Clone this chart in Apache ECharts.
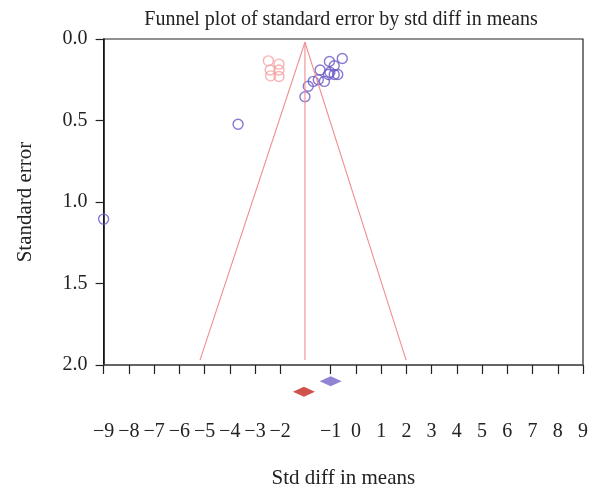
<!DOCTYPE html>
<html>
<head>
<meta charset="utf-8">
<script src="https://cdn.jsdelivr.net/npm/echarts@6/dist/echarts.min.js"></script>
<style>html,body{margin:0;padding:0;background:#fff}#c{width:596px;height:494px}</style>
</head>
<body>
<div id="c"></div>
<script>
// Axis coordinates: "−9".."−2" sit at −9..−2, an unlabeled slot at −1, then "−1".."9" at 0..10 (as drawn in the reference)
const xTickLabels = ['−9','−8','−7','−6','−5','−4','−3','−2','','−1','0','1','2','3','4','5','6','7','8','9'];
const yTicks = [0, 0.5, 1.0, 1.5, 2.0];

// Observed studies (std diff in means, standard error)
const observedX = [0.46, -0.05, 0.14, -0.42, -0.03, 0.28, -0.09, 0.14, -0.49, -0.25, -0.69, -0.89, -1.02, -3.67, -9.0];
const observedSE = [0.120, 0.138, 0.164, 0.190, 0.204, 0.218, 0.218, 0.218, 0.250, 0.260, 0.260, 0.290, 0.354, 0.523, 1.105];

// Imputed studies
const imputedX = [-2.47, -2.05, -2.40, -2.05, -2.38, -2.05];
const imputedSE = [0.134, 0.154, 0.190, 0.190, 0.226, 0.230];

// Funnel (centre and 95% limits)
const funnelCenter = -1.02;
const funnelTopSE = 0.02;
const funnelBottomSE = 1.97;
const funnelLeftBottom = -5.18;
const funnelRightBottom = 2.99;

// Summary diamonds (x, plotted below axis)
const observedSummary = [0.0, 2.10];
const adjustedSummary = [-1.06, 2.164];

const pink = '#f4a0a0';
const blue = '#6a58c6';

const chart = echarts.init(document.getElementById('c'));
const serif = 'Liberation Serif';

chart.setOption({
  animation: false,
  backgroundColor: '#fff',
  title: {
    text: 'Funnel plot of standard error by std diff in means',
    left: 336, top: 5, textAlign: 'center',
    textStyle: {fontFamily: serif, fontSize: 20, fontWeight: 'normal', color: '#222'}
  },
  grid: {left: 103.6, right: 13, top: 39, bottom: 122, show: true, borderColor: '#222', borderWidth: 1.2, backgroundColor: 'transparent'},
  xAxis: [
    {type: 'value', min: -9, max: 10, interval: 1, show: false},
    {
      type: 'category', data: xTickLabels, boundaryGap: false, position: 'bottom',
      name: 'Std diff in means', nameLocation: 'middle', nameGap: 103,
      nameTextStyle: {fontFamily: serif, fontSize: 21, color: '#222'},
      axisLine: {onZero: false, lineStyle: {color: '#555', width: 1.5}},
      axisTick: {length: 9, lineStyle: {color: '#222', width: 1.2}, interval: (i) => xTickLabels[i] !== ''},
      axisLabel: {margin: 57, fontFamily: serif, fontSize: 20, color: '#222', interval: 0},
      splitLine: {show: false}
    }
  ],
  yAxis: {
    type: 'value', inverse: true, min: 0, max: 2, interval: 0.5,
    name: 'Standard error', nameLocation: 'middle', nameGap: 68,
    nameTextStyle: {fontFamily: serif, fontSize: 21, color: '#222'},
    axisLine: {show: true, onZero: false, lineStyle: {color: '#111', width: 1.5}},
    axisTick: {show: true, length: 8, lineStyle: {color: '#222', width: 1.2}},
    axisLabel: {margin: 16, fontFamily: serif, fontSize: 20, color: '#222', formatter: v => v.toFixed(1)},
    splitLine: {show: false}
  },
  series: [
    {
      type: 'line', xAxisIndex: 0, symbol: 'none', silent: true,
      lineStyle: {color: '#f28e8e', width: 1.1},
      data: [[funnelLeftBottom, funnelBottomSE], [funnelCenter, funnelTopSE], [funnelRightBottom, funnelBottomSE]]
    },
    {
      type: 'line', xAxisIndex: 0, symbol: 'none', silent: true,
      lineStyle: {color: '#f28e8e', width: 1.1},
      data: [[funnelCenter, funnelTopSE], [funnelCenter, funnelBottomSE]]
    },
    {
      type: 'scatter', xAxisIndex: 0, symbol: 'circle', symbolSize: 10,
      itemStyle: {color: 'rgba(0,0,0,0)', borderColor: pink, borderWidth: 1.4},
      data: imputedX.map((x, i) => [x, imputedSE[i]])
    },
    {
      type: 'scatter', xAxisIndex: 0, symbol: 'circle', symbolSize: 10,
      itemStyle: {color: 'rgba(0,0,0,0)', borderColor: blue, borderWidth: 1.4},
      data: observedX.map((x, i) => [x, observedSE[i]])
    },
    {
      type: 'scatter', xAxisIndex: 0, symbol: 'diamond', symbolSize: [22, 10], clip: false,
      itemStyle: {color: '#7565c8'},
      data: [observedSummary]
    },
    {
      type: 'scatter', xAxisIndex: 0, symbol: 'diamond', symbolSize: [22, 10], clip: false,
      itemStyle: {color: '#c4281e'},
      data: [adjustedSummary]
    }
  ]
});
</script>
</body>
</html>
